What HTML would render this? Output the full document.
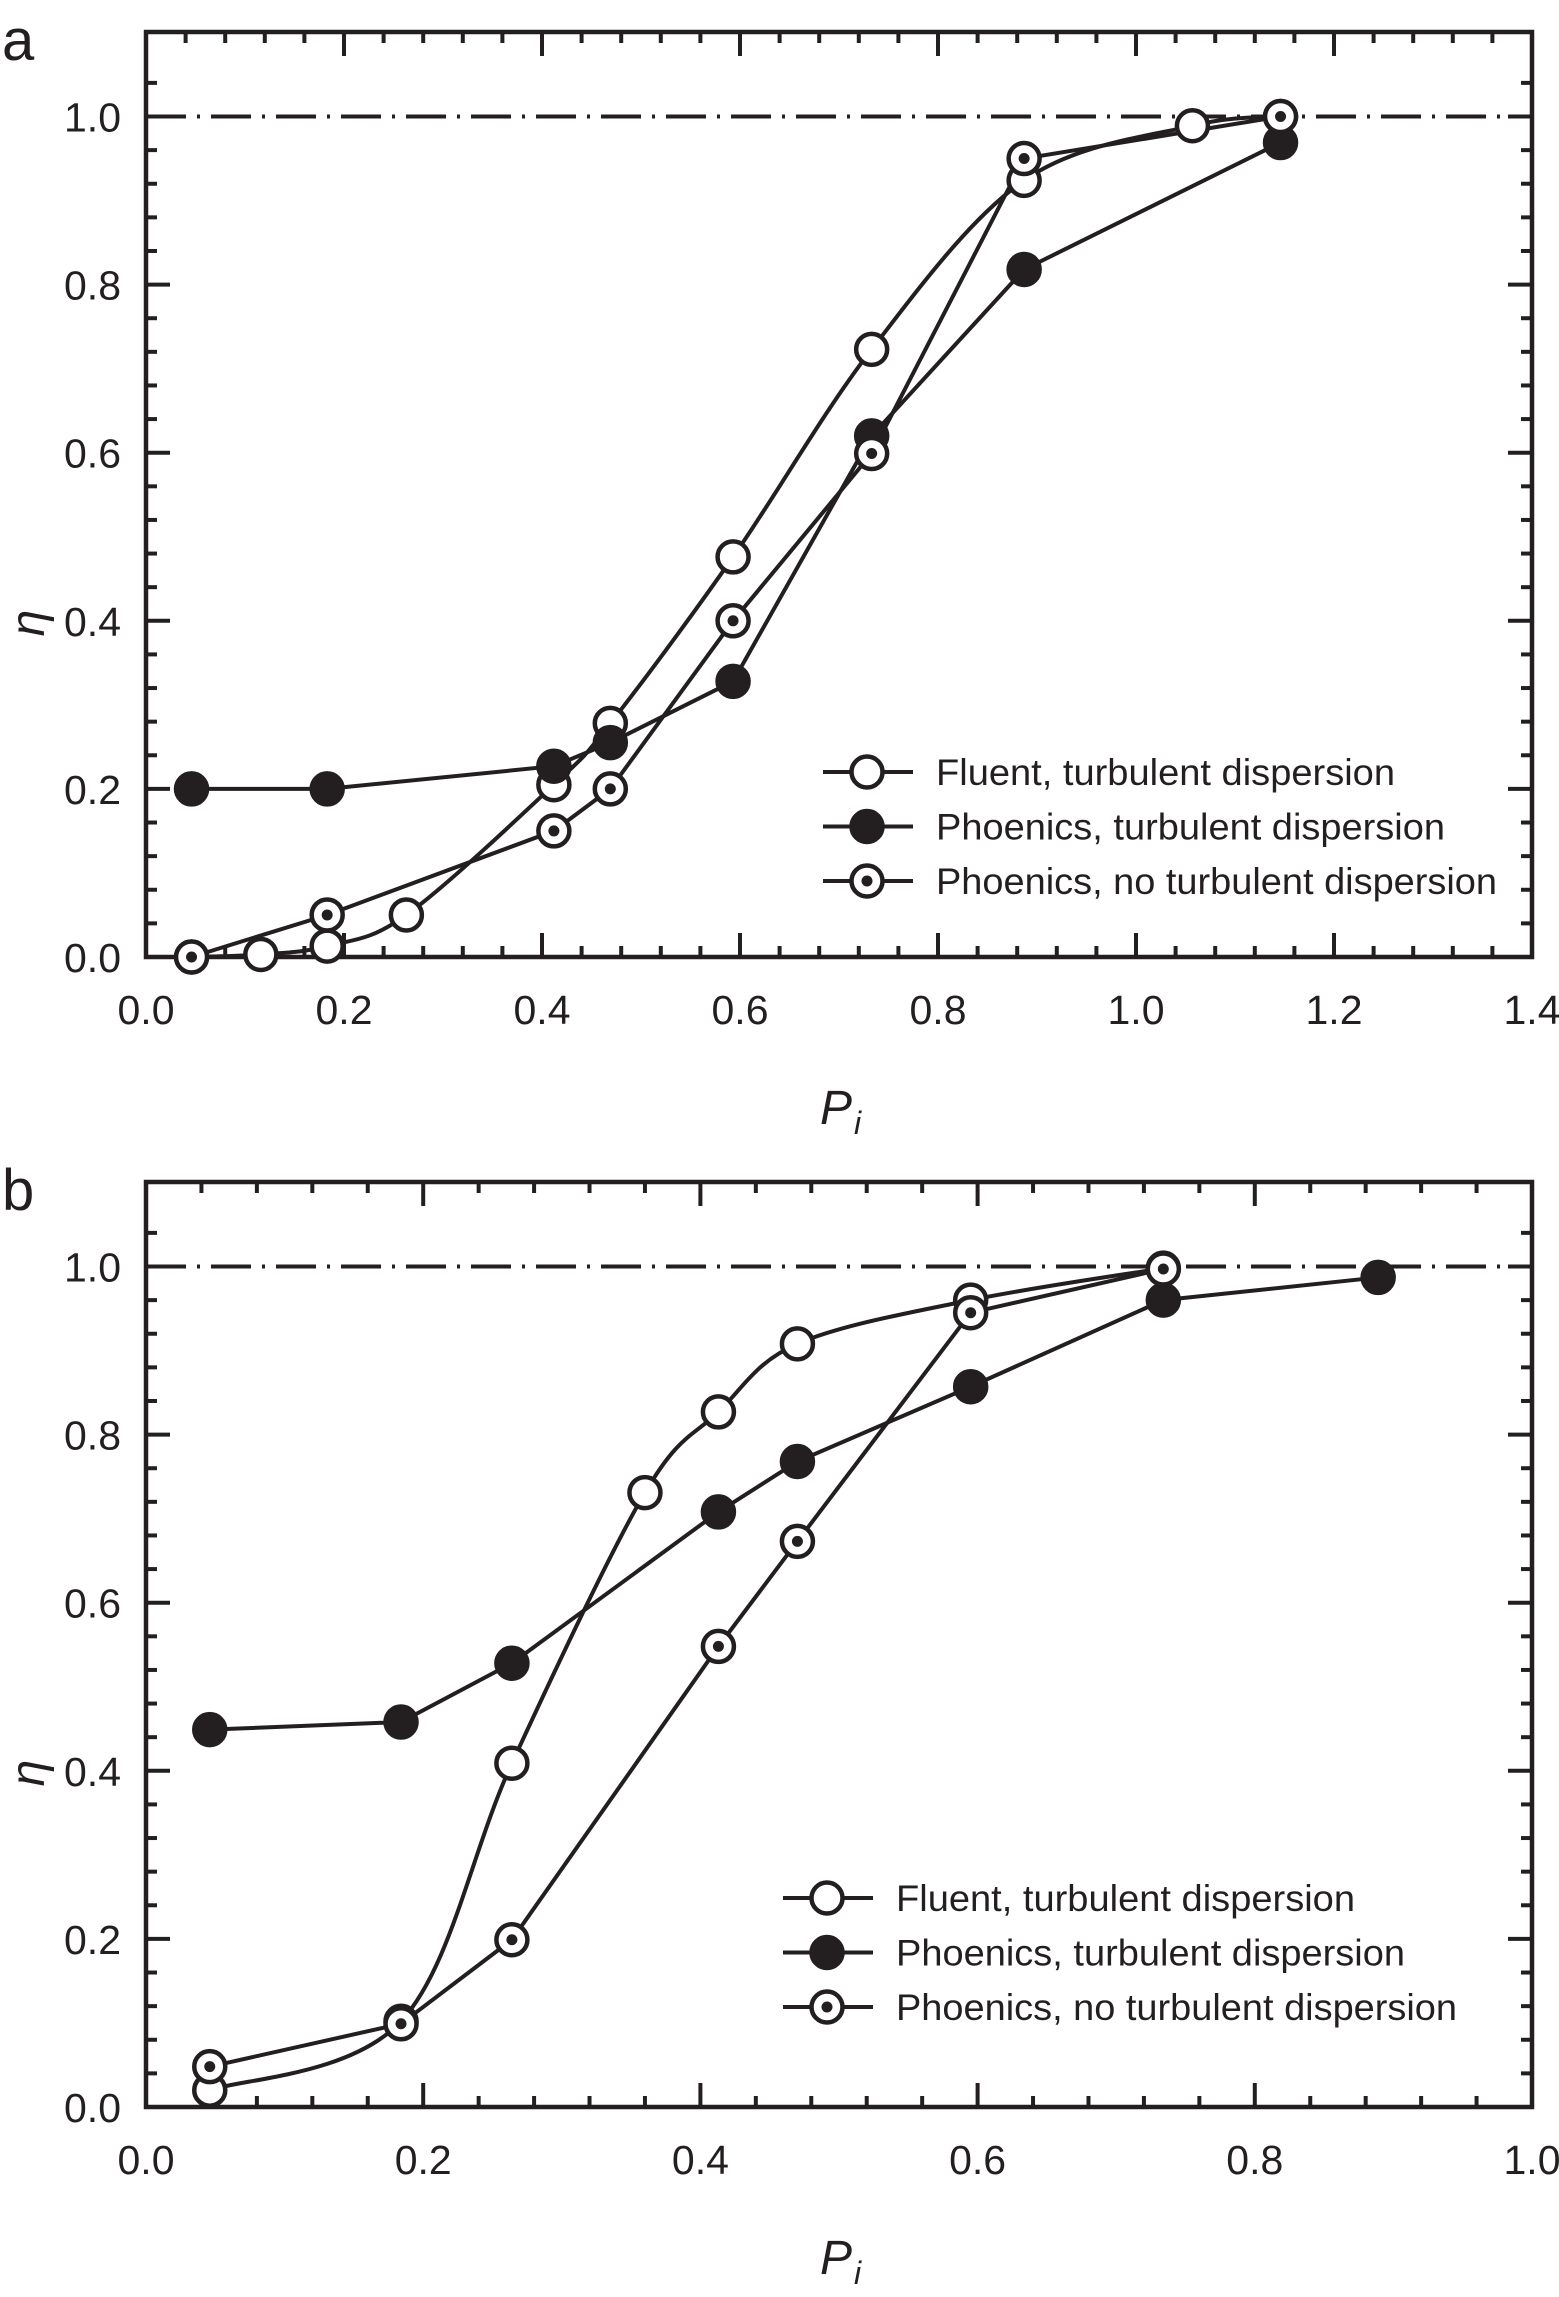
<!DOCTYPE html>
<html><head><meta charset="utf-8"><style>
html,body{margin:0;padding:0;background:#fff;}
svg{display:block;}
text{font-family:"Liberation Sans",sans-serif;fill:#231f20;}
</style></head><body>
<svg id="fig" width="1559" height="2297" viewBox="0 0 1559 2297" xmlns="http://www.w3.org/2000/svg"></svg>
<script>
// Panel a data
const aFluentX = [0.046,0.116,0.183,0.263,0.412,0.469,0.593,0.733,0.887,1.057,1.146];
const aFluentY = [0.0,0.003,0.013,0.05,0.205,0.278,0.476,0.723,0.924,0.989,1.0];
const aPhTurbX = [0.046,0.183,0.412,0.469,0.593,0.733,0.887,1.146];
const aPhTurbY = [0.2,0.2,0.227,0.255,0.328,0.62,0.818,0.969];
const aPhNoX = [0.046,0.183,0.412,0.469,0.593,0.733,0.887,1.146];
const aPhNoY = [0.0,0.05,0.15,0.2,0.4,0.599,0.95,1.0];
const aXTicks = ["0.0","0.2","0.4","0.6","0.8","1.0","1.2","1.4"];
// Panel b data
const bFluentX = [0.046,0.184,0.264,0.36,0.413,0.47,0.595,0.734];
const bFluentY = [0.02,0.102,0.409,0.731,0.827,0.908,0.96,0.998];
const bPhTurbX = [0.046,0.184,0.264,0.413,0.47,0.595,0.734,0.889];
const bPhTurbY = [0.449,0.458,0.528,0.708,0.768,0.857,0.96,0.987];
const bPhNoX = [0.046,0.184,0.264,0.413,0.47,0.595,0.734];
const bPhNoY = [0.048,0.099,0.199,0.548,0.673,0.945,0.997];
const bXTicks = ["0.0","0.2","0.4","0.6","0.8","1.0"];
const yTicks = ["0.0","0.2","0.4","0.6","0.8","1.0"];
const legendLabels = ["Fluent, turbulent dispersion","Phoenics, turbulent dispersion","Phoenics, no turbulent dispersion"];

const NS="http://www.w3.org/2000/svg";
const svg=document.getElementById('fig');
function mk(tag,attrs,parent){const e=document.createElementNS(NS,tag);for(const k in attrs)e.setAttribute(k,attrs[k]);(parent||svg).appendChild(e);return e;}
const INK="#231f20";

function panel(cfg){
  const g=mk('g',{});
  
  
  const L=146,R=1532,B=cfg.bottom,T=B-925;
  const xs=v=>L+(v/cfg.xmax)*(R-L);
  const ys=v=>B-v*840.5;
  const ref=mk('line',{x1:L,x2:R,y1:ys(1),y2:ys(1),stroke:INK,'stroke-width':4,'stroke-dasharray':'40 11 3 11'},g);
  
  
  const minorStep=0.04;
  const nX=Math.round(cfg.xmax/minorStep);
  for(let i=1;i<nX;i++){
    const v=i*minorStep, major=(i%5===0), len=major?24:11, x=xs(v);
    mk('line',{x1:x,x2:x,y1:B,y2:B-len,stroke:INK,'stroke-width':4},g);
    mk('line',{x1:x,x2:x,y1:T,y2:T+len,stroke:INK,'stroke-width':4},g);
  }
  for(let i=1;i<27;i++){
    const v=i*minorStep, major=(i%5===0), len=major?24:11, y=ys(v);
    mk('line',{x1:L,x2:L+len,y1:y,y2:y,stroke:INK,'stroke-width':4},g);
    mk('line',{x1:R,x2:R-len,y1:y,y2:y,stroke:INK,'stroke-width':4},g);
  }
  const frame=mk('rect',{x:L,y:T,width:R-L,height:B-T,fill:'none',stroke:INK,'stroke-width':4.5},g);
  
  
  cfg.xticks.forEach((t,i)=>{
    const tx=mk('text',{x:xs(i*0.2),y:B+67,'font-size':41,'text-anchor':'middle'},g);
    tx.textContent=t;
    
    
  });
  yTicks.forEach((t,i)=>{
    const ty=mk('text',{x:121,y:ys(i*0.2)+15,'font-size':41,'text-anchor':'end'},g);
    ty.textContent=t;
    
    
  });
  const ycy=B-334;
  const yt=mk('text',{x:0,y:0,'font-size':48,'font-style':'italic','text-anchor':'middle',transform:`translate(44 ${ycy}) rotate(-90)`},g);
  yt.textContent='η';
  
  
  const xt=mk('text',{x:820,y:B+167,'font-size':48,'font-style':'italic'},g);
  xt.textContent='P';
  
  
  const xsub=mk('tspan',{dx:2,dy:10,'font-size':32},xt);
  xsub.textContent='i';
  const pl=mk('text',{x:2,y:B-897,'font-size':58},g);
  pl.textContent=cfg.letter;
  
  

  function spline(X,Y){
    const P=X.map((x,i)=>[xs(x),ys(Y[i])]);
    let d=`M${P[0][0]},${P[0][1]}`;
    for(let i=0;i<P.length-1;i++){
      const p0=P[Math.max(0,i-1)],p1=P[i],p2=P[i+1],p3=P[Math.min(P.length-1,i+2)];
      const c1=[p1[0]+(p2[0]-p0[0])/6,p1[1]+(p2[1]-p0[1])/6];
      const c2=[p2[0]-(p3[0]-p1[0])/6,p2[1]-(p3[1]-p1[1])/6];
      d+=` C${c1[0]},${c1[1]} ${c2[0]},${c2[1]} ${p2[0]},${p2[1]}`;
    }
    return d;
  }
  function poly(X,Y){return X.map((x,i)=>(i?'L':'M')+xs(x)+','+ys(Y[i])).join(' ');}
  function marker(cx,cy,type,parent,name){
    const c=mk('circle',{cx:cx,cy:cy,r:15.5,fill:type==='filled'?INK:'#fff',stroke:INK,'stroke-width':4.5},parent);
    
    
    if(type==='dot') mk('circle',{cx:cx,cy:cy,r:5.5,fill:INK},parent);
  }
  const series=[
    {X:cfg.fX,Y:cfg.fY,type:'open',curve:true,name:'fluent-turbulent'},
    {X:cfg.tX,Y:cfg.tY,type:'filled',curve:false,name:'phoenics-turbulent'},
    {X:cfg.nX,Y:cfg.nY,type:'dot',curve:false,name:'phoenics-no-turbulent'}
  ];
  series.forEach(s=>{
    const sg=mk('g',{},g);
    
    
    const p=mk('path',{d:s.curve?spline(s.X,s.Y):poly(s.X,s.Y),fill:'none',stroke:INK,'stroke-width':4},sg);
    
    
  });
  series.forEach(s=>{
    const sg=mk('g',{},g);
    
    
    s.X.forEach((x,i)=>marker(xs(x),ys(s.Y[i]),s.type,sg,s.name+'-point'));
  });
  const lg=mk('g',{},g);
  
  
  const types=['open','filled','dot'];
  const lens=[459,509,561];
  legendLabels.forEach((lab,i)=>{
    const y=cfg.legY+i*54.5;
    const eg=mk('g',{},lg);
    
    
    mk('line',{x1:cfg.legX-44,x2:cfg.legX+46,y1:y,y2:y,stroke:INK,'stroke-width':4},eg);
    marker(cfg.legX,y,types[i],eg,'legend-marker');
    const t=mk('text',{x:cfg.legX+69,y:y+13,'font-size':37,textLength:lens[i],lengthAdjust:'spacingAndGlyphs'},eg);
    t.textContent=lab;
  });
}
panel({name:'panel-a',letter:'a',bottom:957,xmax:1.4,xticks:aXTicks,fX:aFluentX,fY:aFluentY,tX:aPhTurbX,tY:aPhTurbY,nX:aPhNoX,nY:aPhNoY,legX:867,legY:772});
panel({name:'panel-b',letter:'b',bottom:2107,xmax:1.0,xticks:bXTicks,fX:bFluentX,fY:bFluentY,tX:bPhTurbX,tY:bPhTurbY,nX:bPhNoX,nY:bPhNoY,legX:827,legY:1898});
</script>
</body></html>
